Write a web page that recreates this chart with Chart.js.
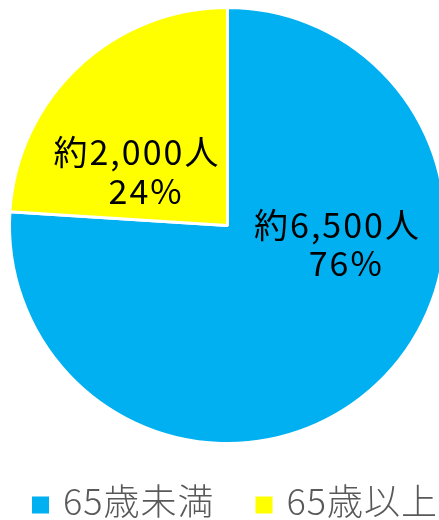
<!DOCTYPE html>
<html>
<head>
<meta charset="utf-8">
<script src="https://cdn.jsdelivr.net/npm/chart.js@4.4.1/dist/chart.umd.min.js"></script>
<style>
  html, body { margin: 0; padding: 0; background: #fff; overflow: hidden; }
  #wrap { width: 439px; height: 520px; overflow: hidden; }
</style>
</head>
<body>
<div id="wrap"><canvas id="pieChart" width="455" height="520"></canvas></div>
<script>
// 区分
const categories = ['65歳未満', '65歳以上'];
// 割合（%）
const shares = [76, 24];
// 人数（約）
const people = ['6,500', '2,000'];
// 色
const sliceColors = ['#00B0F0', '#FFFF00'];

// ラベル位置（中心からの比率、1行目 / 2行目）
const labelOffsets = [
    [[0.50, 0.00], [0.54, 0.172]],
    [[-0.42, -0.337], [-0.378, -0.158]]
];

const FONT = '"Noto Sans CJK JP", "Noto Sans", sans-serif';

// スライス内のラベル
const pieLabels = {
    id: 'pieLabels',
    afterDatasetsDraw(chart) {
        const ctx = chart.ctx;
        const arcs = chart.getDatasetMeta(0).data;
        ctx.save();
        ctx.fillStyle = '#000';
        ctx.textAlign = 'center';
        ctx.textBaseline = 'middle';
        ctx.font = '34px ' + FONT;
        ctx.letterSpacing = '2px';
        arcs.forEach((arc, i) => {
            const r = arc.outerRadius;
            const lines = ['約' + people[i] + '人', shares[i] + '%'];
            lines.forEach((txt, j) => {
                const off = labelOffsets[i][j];
                ctx.fillText(txt, arc.x + off[0] * r + 1, arc.y + off[1] * r);
            });
        });
        ctx.restore();
    }
};

// 凡例（下部、横一列）
const bottomLegend = {
    id: 'bottomLegend',
    afterDraw(chart) {
        const ctx = chart.ctx;
        const box = 17, gapText = 14, gapItem = 42;
        const y = 505;
        ctx.save();
        ctx.font = '300 36px ' + FONT;
        ctx.letterSpacing = '1px';
        ctx.textBaseline = 'middle';
        ctx.textAlign = 'left';
        let x = 32;
        categories.forEach((label, i) => {
            ctx.fillStyle = sliceColors[i];
            ctx.fillRect(x, y - box / 2, box, box);
            x += box + gapText;
            ctx.fillStyle = '#595959';
            ctx.fillText(label, x, y - 4);
            x += ctx.measureText(label).width + gapItem - 1;
        });
        ctx.restore();
    }
};

const pieChart = new Chart(document.getElementById('pieChart'), {
    type: 'pie',
    data: {
        labels: categories,
        datasets: [{
            data: shares,
            backgroundColor: sliceColors,
            borderColor: '#ffffff',
            borderWidth: 3,
            hoverOffset: 0
        }]
    },
    options: {
        responsive: false,
        animation: false,
        layout: { padding: { top: 6, left: 8, right: 8, bottom: 75 } },
        plugins: {
            tooltip: { enabled: false },
            legend: { display: false }
        }
    },
    plugins: [pieLabels, bottomLegend]
});
</script>
</body>
</html>
